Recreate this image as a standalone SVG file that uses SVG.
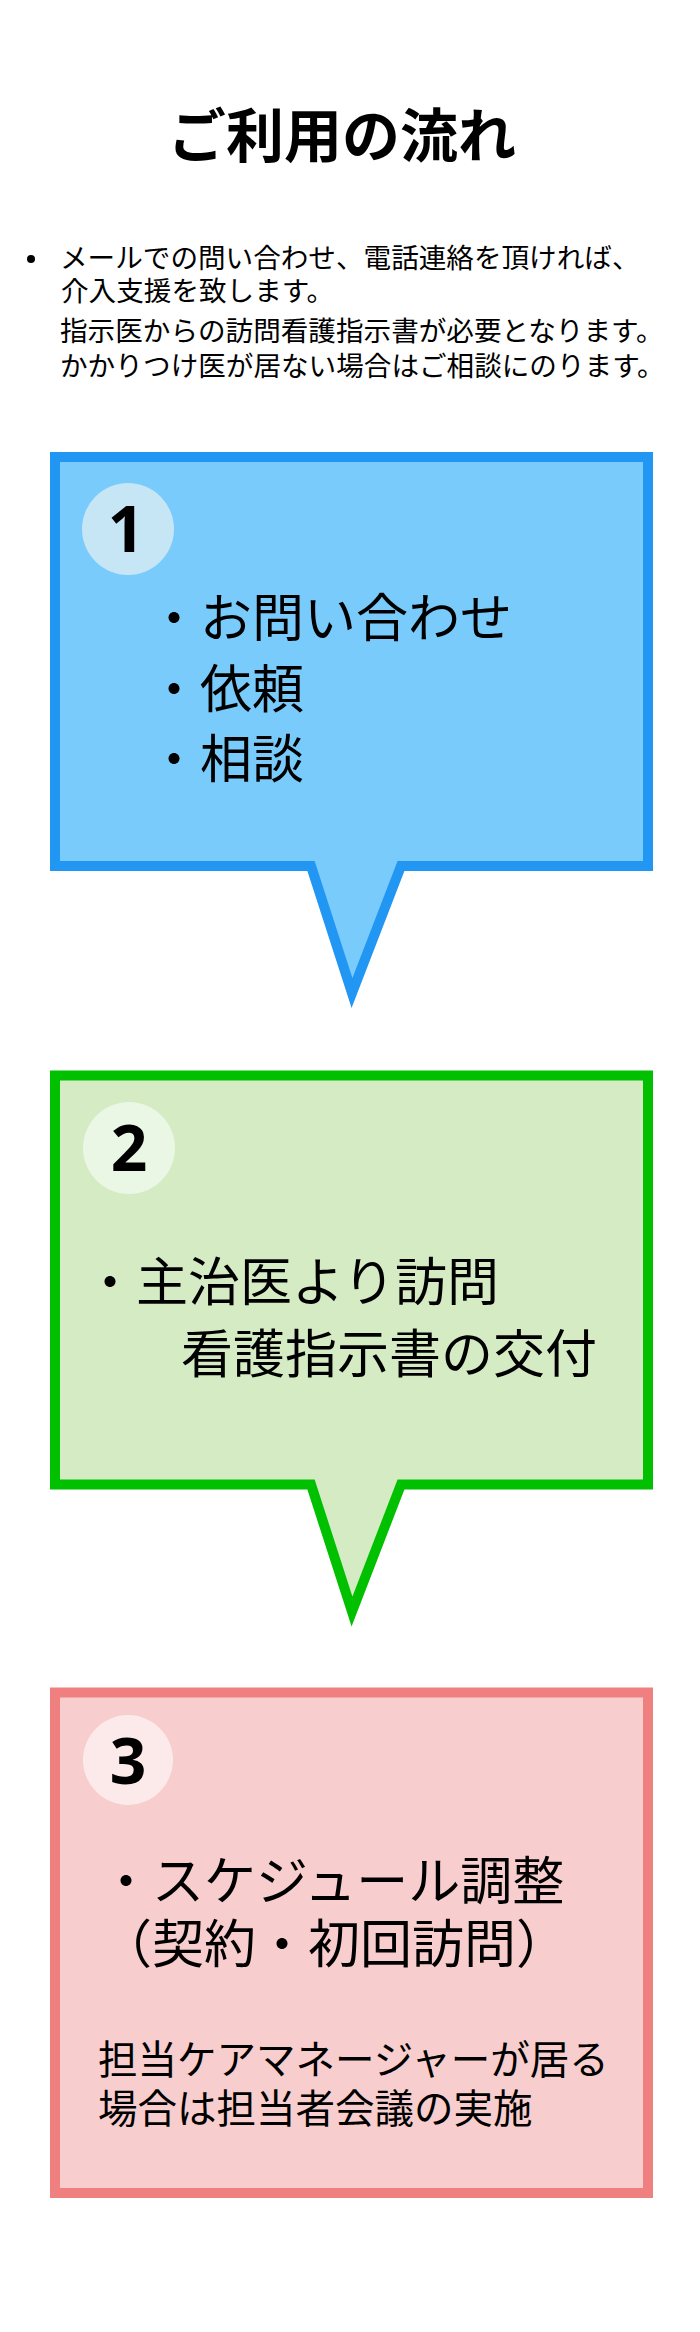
<svg xmlns="http://www.w3.org/2000/svg" width="700" height="2332" viewBox="0 0 700 2332">
<style>
text{font-family:"Noto Sans CJK JP","Noto Sans",sans-serif;fill:#000}
.title{font-size:58px;font-weight:700;text-anchor:middle}
.para{font-size:27.6px}
.num{font-family:"Noto Sans","DejaVu Sans",sans-serif;font-size:64px;font-weight:700;text-anchor:middle}
.big{font-size:52px}
.mid{font-size:39.5px}
.box{stroke-width:10;stroke-linejoin:miter;stroke-miterlimit:10}
</style>
<rect width="700" height="2332" fill="#fff"/>
<g id="header">
<text class="title" x="342" y="157">ご利用の流れ</text>
<circle cx="31" cy="259" r="4" fill="#000"/>
<text class="para" x="60" y="268">メールでの問い合わせ、電話連絡を頂ければ、</text>
<text class="para" x="61" y="301">介入支援を致します。</text>
<text class="para" x="60" y="341">指示医からの訪問看護指示書が必要となります。</text>
<text class="para" x="60" y="376">かかりつけ医が居ない場合はご相談にのります。</text>
</g>
<g id="step1">
<path class="box" d="M55,457 H648 V866 H401 L352,993 L311,866 H55 Z" fill="#78CBFB" stroke="#2196F3"/>
<circle cx="128" cy="529" r="46" fill="#C6E6F6"/>
<text class="num" x="126" y="552">1</text>
<text class="big" x="148" y="637">・お問い合わせ</text>
<text class="big" x="148" y="708">・依頼</text>
<text class="big" x="148" y="778">・相談</text>
</g>
<g id="step2">
<path class="box" d="M55,1075.5 H648 V1484.5 H401 L352,1611.5 L311,1484.5 H55 Z" fill="#D4EBC4" stroke="#00C000"/>
<circle cx="129" cy="1148" r="46" fill="#EAF7E4"/>
<text class="num" x="129" y="1171">2</text>
<text class="big" x="84" y="1301">・主治医より訪問</text>
<text class="big" x="181" y="1373">看護指示書の交付</text>
</g>
<g id="step3">
<rect class="box" x="55" y="1692.5" width="593" height="500.5" fill="#F8CDCD" stroke="#F08080"/>
<circle cx="128" cy="1760" r="45" fill="#FCEAEA"/>
<text class="num" x="128" y="1784">3</text>
<text class="big" x="100" y="1900">・スケジュール調整</text>
<text class="big" x="100" y="1963">（契約・初回訪問）</text>
<text class="mid" x="98" y="2074">担当ケアマネージャーが居る</text>
<text class="mid" x="98" y="2123">場合は担当者会議の実施</text>
</g>
<g id="connectors"></g>
</svg>
